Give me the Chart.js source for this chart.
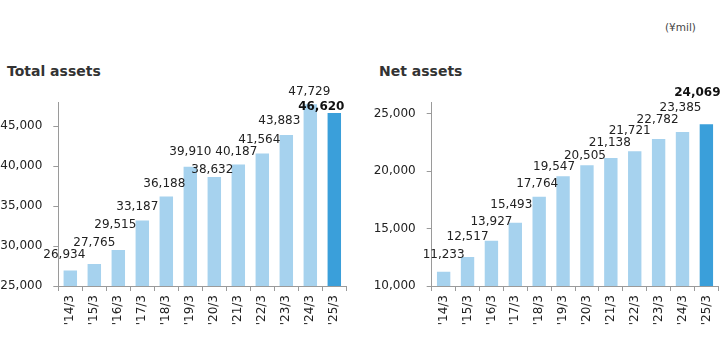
<!DOCTYPE html>
<html>
<head>
<meta charset="utf-8">
<script src="https://cdn.jsdelivr.net/npm/chart.js@4/dist/chart.umd.min.js"></script>
<style>
  html, body { margin: 0; padding: 0; background: #fff; }
  body { width: 725px; height: 360px; position: relative; overflow: hidden; font-family: "DejaVu Sans", sans-serif; }
  .title { position: absolute; font: bold 14px "DejaVu Sans", sans-serif; color: #333; white-space: nowrap; }
  .unit { position: absolute; font: 10.5px "DejaVu Sans", sans-serif; color: #444; white-space: nowrap; }
  .box { position: absolute; top: 0; height: 360px; }
</style>
</head>
<body>
<div class="unit" style="left:665px; top:21px;">(¥mil)</div>
<div class="title" style="left:7px; top:63px;">Total assets</div>
<div class="title" style="left:379px; top:63px;">Net assets</div>
<div class="box" style="left:0; width:362px;"><canvas id="c1" width="362" height="360"></canvas></div>
<div class="box" style="left:362px; width:363px;"><canvas id="c2" width="363" height="360"></canvas></div>
<script>
const categories = ["'14/3", "'15/3", "'16/3", "'17/3", "'18/3", "'19/3", "'20/3", "'21/3", "'22/3", "'23/3", "'24/3", "'25/3"];
const totalAssets = [26934, 27765, 29515, 33187, 36188, 39910, 38632, 40187, 41564, 43883, 47729, 46620];
const netAssets = [11233, 12517, 13927, 15493, 17764, 19547, 20505, 21138, 21721, 22782, 23385, 24069];
const totalTicks = [25000, 30000, 35000, 40000, 45000];
const netTicks = [10000, 15000, 20000, 25000];

const LIGHT = '#a6d2ee';
const DARK = '#3a9fda';
const AXIS = '#9a9a9a';
const FONT = '"DejaVu Sans", sans-serif';

const valueLabels = {
  id: 'valueLabels',
  afterDatasetsDraw(chart, args, opts) {
    const ctx = chart.ctx;
    const meta = chart.getDatasetMeta(0);
    const data = chart.data.datasets[0].data;
    const last = data.length - 1;
    ctx.save();
    ctx.textAlign = 'center';
    ctx.textBaseline = 'middle';
    meta.data.forEach((bar, i) => {
      const n = opts.nudge[i] || [0, -15];
      ctx.font = (i === last ? 'bold ' : '') + '12px ' + FONT;
      ctx.fillStyle = i === last ? '#111' : '#222';
      ctx.fillText(data[i].toLocaleString('en-US'), bar.x + n[0], bar.y + n[1]);
    });
    ctx.restore();
  }
};

function makeChart(id, values, tickValues, yMin, yMax, yWidth, padRight, nudge) {
  const colors = values.map((v, i) => i === values.length - 1 ? DARK : LIGHT);
  return new Chart(document.getElementById(id), {
    type: 'bar',
    data: {
      labels: categories,
      datasets: [{
        data: values,
        backgroundColor: colors,
        borderWidth: 0,
        barPercentage: 0.56,
        categoryPercentage: 1.0
      }]
    },
    options: {
      responsive: false,
      animation: false,
      events: [],
      layout: { padding: { left: 0, top: 102, right: padRight, bottom: 0 } },
      plugins: {
        legend: { display: false },
        tooltip: { enabled: false },
        title: { display: false },
        valueLabels: { nudge: nudge }
      },
      scales: {
        x: {
          offset: true,
          grid: { display: true, drawOnChartArea: false, offset: true, tickLength: 5, color: AXIS },
          border: { display: true, color: AXIS, width: 1 },
          ticks: {
            autoSkip: false, maxRotation: 90, minRotation: 90, padding: 4,
            color: '#222', font: { family: FONT, size: 12 }
          },
          afterFit(scale) { scale.height = 74; }
        },
        y: {
          min: yMin, max: yMax,
          afterBuildTicks(scale) { scale.ticks = tickValues.map(v => ({ value: v })); },
          grid: { display: true, drawOnChartArea: false, tickLength: 5, color: AXIS },
          border: { display: true, color: AXIS, width: 1 },
          ticks: {
            padding: 11, color: '#222', font: { family: FONT, size: 12 },
            callback: v => Number(v).toLocaleString('en-US')
          },
          afterFit(scale) { scale.width = yWidth; }
        }
      }
    },
    plugins: [valueLabels]
  });
}

makeChart('c1', totalAssets, totalTicks, 25000, 48000, 58.3, 15.7,
  [[-6,-16],[0,-21],[-3,-25],[-5,-14],[-2,-13],[0,-15],[-2,-7],[-2,-13],[-3,-14],[-7,-14],[-1,-12],[-13,-6]]);
makeChart('c2', netAssets, netTicks, 10000, 26000, 69.7, 5.3,
  [[0,-17],[0,-20],[0,-19],[-4,-18],[-2,-13],[-9,-9],[-2,-9],[-1,-15],[-5,-20],[-1,-19],[-2,-24],[-9,-31]]);
</script>
</body>
</html>
